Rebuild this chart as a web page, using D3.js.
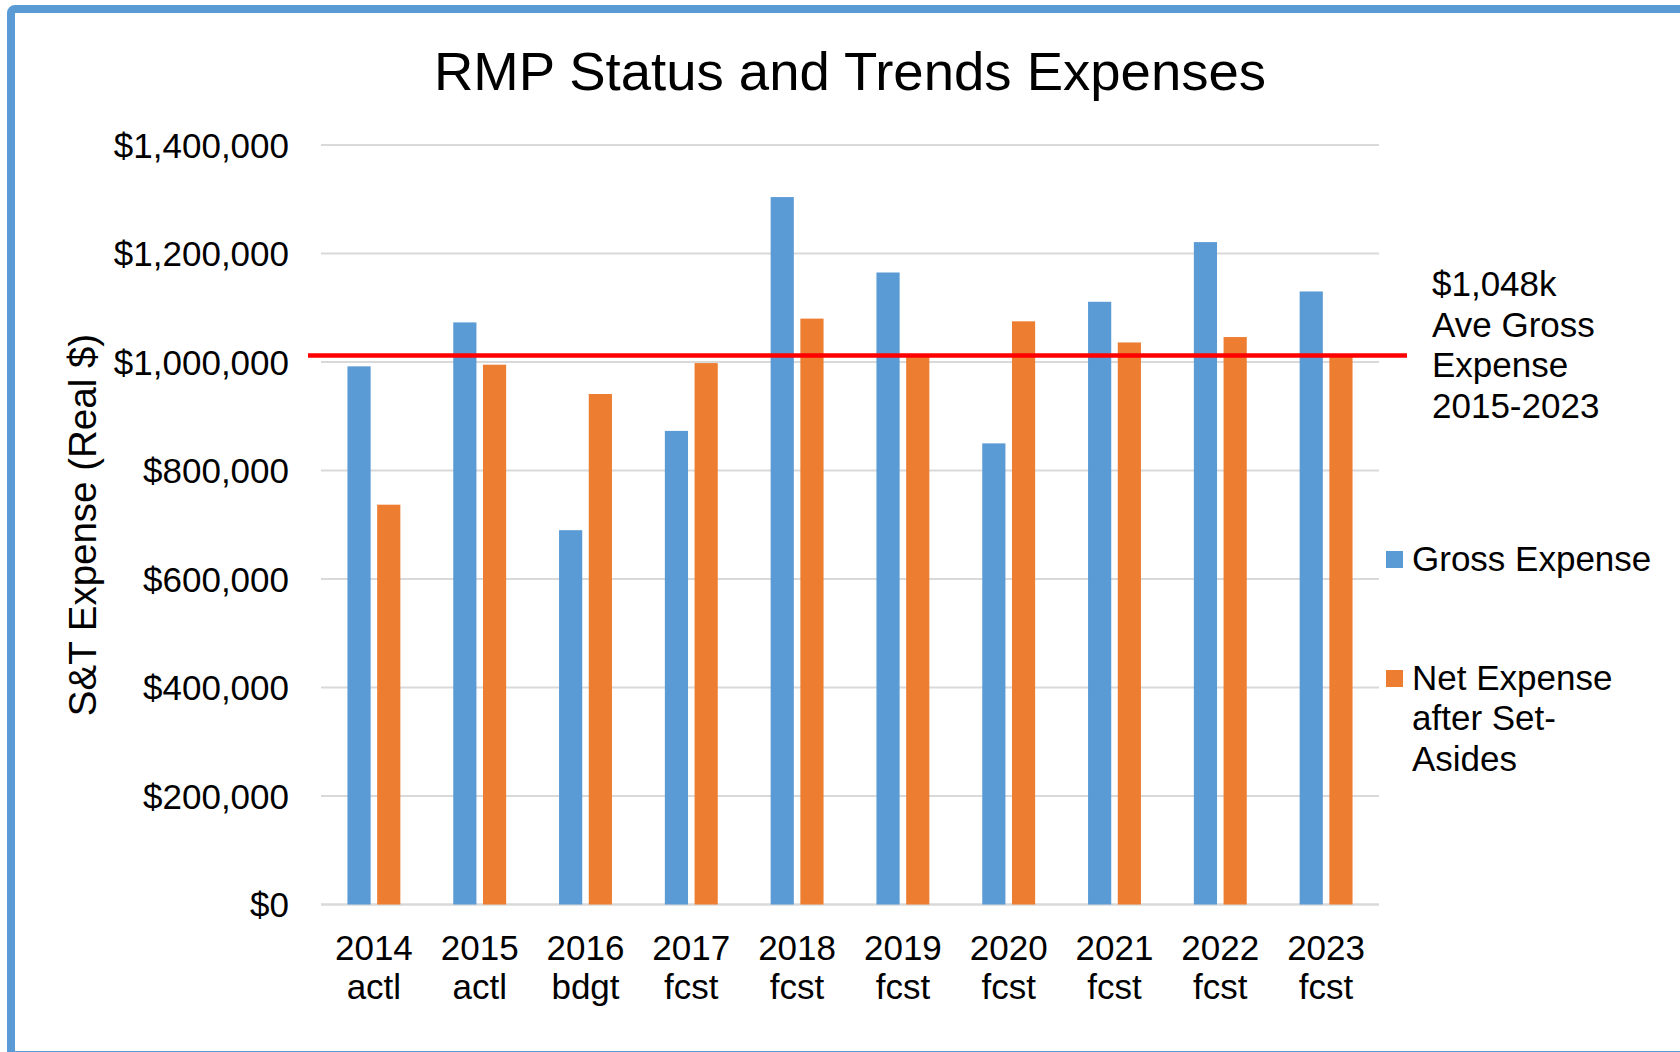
<!DOCTYPE html>
<html>
<head>
<meta charset="utf-8">
<script src="https://cdn.jsdelivr.net/npm/d3@7"></script>
<style>
  html, body { margin: 0; padding: 0; background: #fff; }
  svg { display: block; font-family: "Liberation Sans", Arial, sans-serif; }
</style>
</head>
<body>
<div id="chart"></div>
<script>
// values
var years = ["2014", "2015", "2016", "2017", "2018", "2019", "2020", "2021", "2022", "2023"];
var kinds = ["actl", "actl", "bdgt", "fcst", "fcst", "fcst", "fcst", "fcst", "fcst", "fcst"];
var gross = [992000, 1073000, 690000, 873000, 1304000, 1165000, 850000, 1111000, 1221000, 1130000];
var net = [737000, 995000, 941000, 998000, 1080000, 1012000, 1075000, 1036000, 1046000, 1010000];
var aveLine = 1012000;
var aveLabel = ["$1,048k", "Ave Gross", "Expense", "2015-2023"];
var yTicks = [0, 200000, 400000, 600000, 800000, 1000000, 1200000, 1400000];
var seriesNames = ["Gross Expense", "Net Expense after Set-Asides"];

var W = 1680, H = 1052;
var blue = "#5B9BD5", orange = "#ED7D31";

var svg = d3.select("#chart").append("svg")
    .attr("width", W)
    .attr("height", H);

// outer frame (runs off the right and bottom edges)
svg.append("rect")
    .attr("x", 11).attr("y", 9)
    .attr("width", 1720).attr("height", 1046)
    .attr("rx", 4)
    .style("fill", "#fff")
    .style("stroke", blue)
    .style("stroke-width", 8);

// scales
var x0 = d3.scaleBand().domain(years).range([321, 1379]).paddingInner(0.5).paddingOuter(0.25);
var x1 = d3.scaleBand().domain(["gross", "net"]).range([0, x0.bandwidth()]).paddingInner(0.22);
var y = d3.scaleLinear().domain([0, 1400000]).range([904.5, 145]);

// gridlines
svg.append("g")
    .selectAll("line")
    .data(yTicks)
    .enter().append("line")
    .attr("x1", 321).attr("x2", 1379)
    .attr("y1", function(d) { return y(d); })
    .attr("y2", function(d) { return y(d); })
    .style("stroke", "#D9D9D9")
    .style("stroke-width", function(d) { return d === 0 ? 2.5 : 2; });

// y tick labels
svg.append("g")
    .selectAll("text")
    .data(yTicks)
    .enter().append("text")
    .attr("x", 289)
    .attr("y", function(d) { return y(d) + 12.5; })
    .attr("text-anchor", "end")
    .attr("font-size", 35)
    .style("fill", "#000")
    .text(function(d) { return d3.format("$,")(d); });

// bars
var rows = years.map(function(yr, i) { return { year: yr, gross: gross[i], net: net[i] }; });
var groups = svg.append("g").selectAll("g")
    .data(rows)
    .enter().append("g")
    .attr("transform", function(d) { return "translate(" + x0(d.year) + ",0)"; });

groups.append("rect")
    .attr("x", x1("gross"))
    .attr("width", x1.bandwidth())
    .attr("y", function(d) { return y(d.gross); })
    .attr("height", function(d) { return y(0) - y(d.gross); })
    .style("fill", blue);

groups.append("rect")
    .attr("x", x1("net"))
    .attr("width", x1.bandwidth())
    .attr("y", function(d) { return y(d.net); })
    .attr("height", function(d) { return y(0) - y(d.net); })
    .style("fill", orange);

// average line
svg.append("line")
    .attr("x1", 308).attr("x2", 1407)
    .attr("y1", y(aveLine)).attr("y2", y(aveLine))
    .style("stroke", "#FF0000")
    .style("stroke-width", 4.5);

// average label
var ave = svg.append("text")
    .attr("x", 1432)
    .attr("y", 296)
    .attr("font-size", 35)
    .style("fill", "#000");
ave.selectAll("tspan")
    .data(aveLabel)
    .enter().append("tspan")
    .attr("x", 1432)
    .attr("dy", function(d, i) { return i === 0 ? 0 : 40.5; })
    .text(function(d) { return d; });

// category labels
var cats = svg.append("g").selectAll("text")
    .data(years)
    .enter().append("text")
    .attr("text-anchor", "middle")
    .attr("font-size", 35)
    .style("fill", "#000")
    .attr("x", function(d) { return x0(d) + x0.bandwidth() / 2; })
    .attr("y", 960);
cats.append("tspan")
    .attr("x", function(d) { return x0(d) + x0.bandwidth() / 2; })
    .text(function(d) { return d; });
cats.append("tspan")
    .attr("x", function(d) { return x0(d) + x0.bandwidth() / 2; })
    .attr("dy", 39)
    .text(function(d, i) { return kinds[i]; });

// title
svg.append("text")
    .attr("x", 850)
    .attr("y", 90)
    .attr("text-anchor", "middle")
    .attr("font-size", 54.5)
    .style("fill", "#000")
    .text("RMP Status and Trends Expenses");

// y axis title
svg.append("text")
    .attr("transform", "translate(96,525) rotate(-90)")
    .attr("text-anchor", "middle")
    .attr("font-size", 38.5)
    .style("fill", "#000")
    .text("S&T Expense (Real $)");

// legend
svg.append("rect")
    .attr("x", 1386).attr("y", 551)
    .attr("width", 17).attr("height", 17)
    .style("fill", blue);
svg.append("text")
    .attr("x", 1412).attr("y", 571)
    .attr("font-size", 35)
    .style("fill", "#000")
    .text(seriesNames[0]);

svg.append("rect")
    .attr("x", 1386).attr("y", 670)
    .attr("width", 17).attr("height", 17)
    .style("fill", orange);
var netLeg = svg.append("text")
    .attr("x", 1412).attr("y", 689.5)
    .attr("font-size", 35)
    .style("fill", "#000");
netLeg.selectAll("tspan")
    .data(["Net Expense", "after Set-", "Asides"])
    .enter().append("tspan")
    .attr("x", 1412)
    .attr("dy", function(d, i) { return i === 0 ? 0 : 40.5; })
    .text(function(d) { return d; });
</script>
</body>
</html>
